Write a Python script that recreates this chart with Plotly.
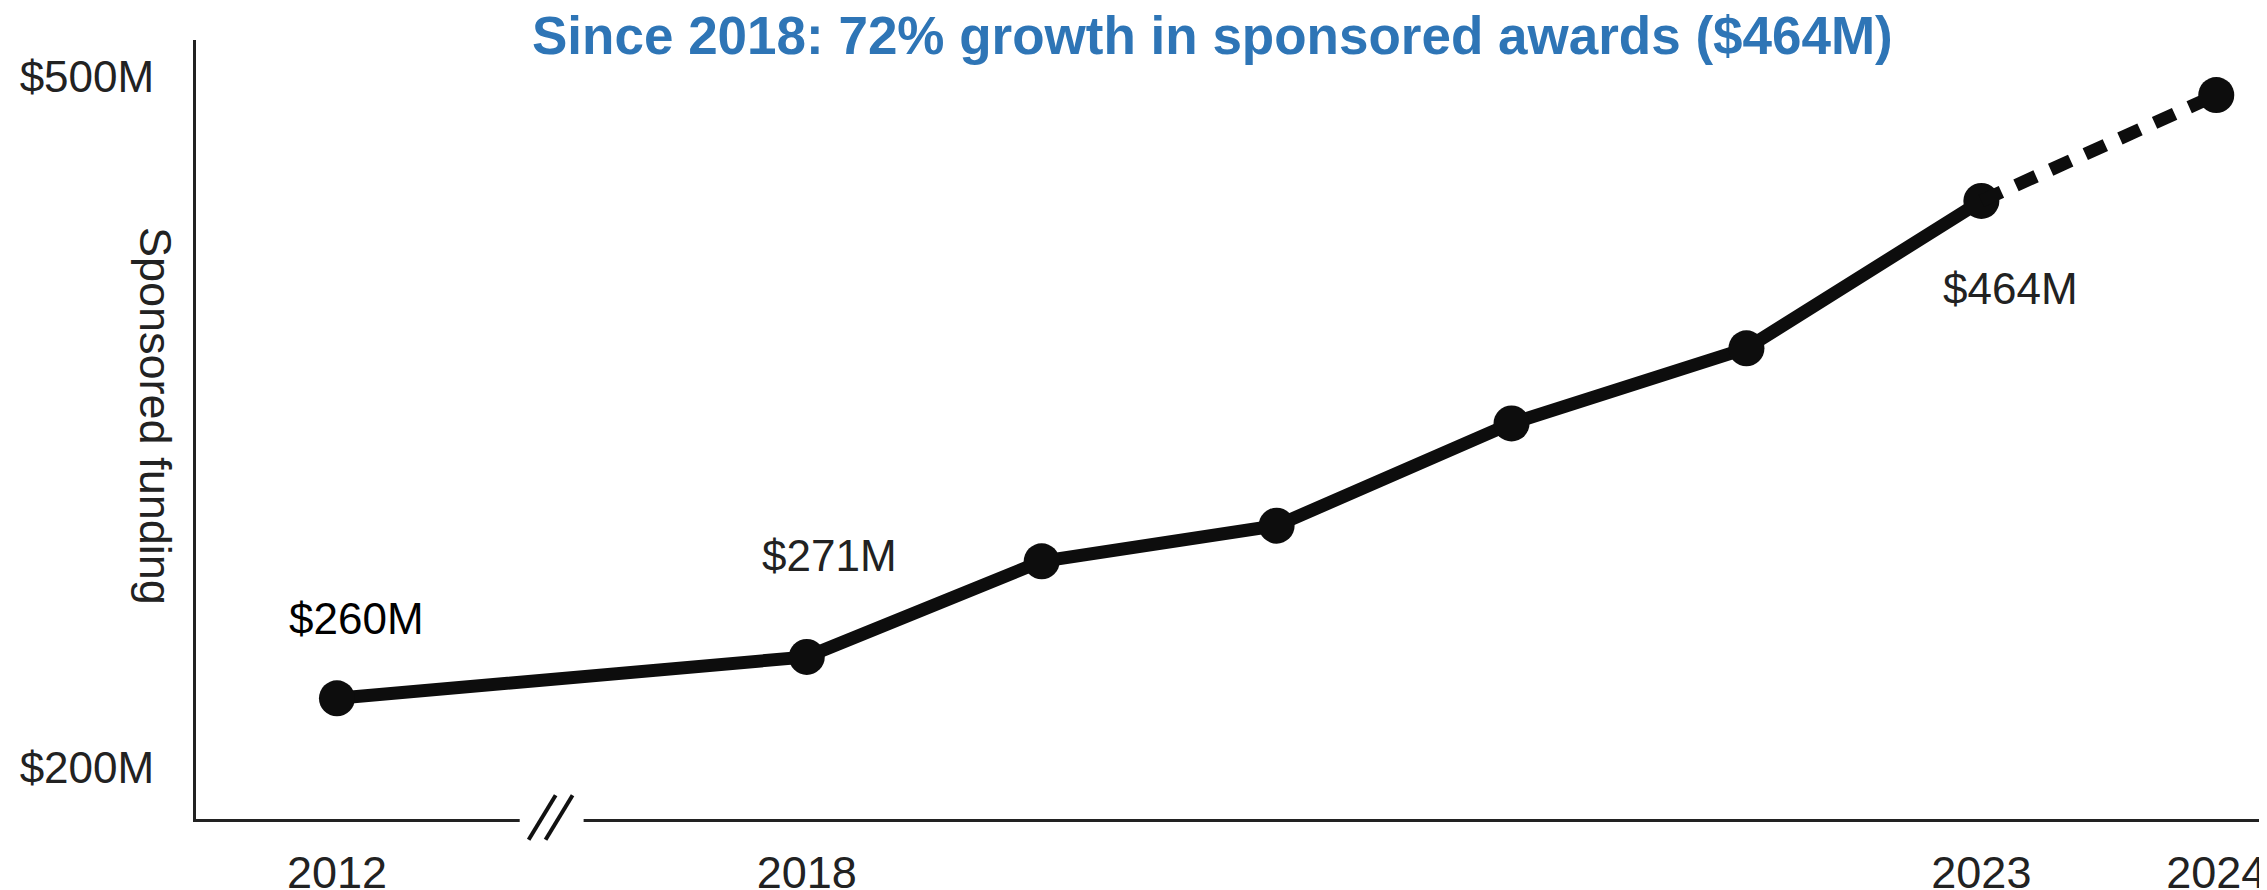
import plotly.graph_objects as go

# data (positions on the $ scale) and the printed labels
years = [2012, 2018, 2019, 2020, 2021, 2022, 2023, 2024]
funding = [230, 248, 289.5, 305, 349.4, 382, 446, 492]
tick_years = [2012, 2018, 2023, 2024]
y_ticks = [200, 500]
y_tick_text = ["$200M", "$500M"]
label_years = [2012, 2018, 2023]
label_text = ["$260M", "$271M", "$464M"]
title = "Since 2018: 72% growth in sponsored awards ($464M)"

# axis is broken between 2012 and 2018: 2012 drawn two slots before 2018
def xpos(year):
    return year if year >= 2018 else 2016

xs = [xpos(y) for y in years]
val = dict(zip(years, funding))

FONT = "Liberation Sans, Arial, sans-serif"
INK = "#0d0d0d"

fig = go.Figure()

# solid part up to 2023
fig.add_trace(go.Scatter(
    x=xs[:-1], y=funding[:-1], mode="lines+markers",
    line=dict(color=INK, width=13),
    marker=dict(color=INK, size=36),
    hoverinfo="skip",
))
# projected part 2023 -> 2024
fig.add_trace(go.Scatter(
    x=xs[-2:], y=funding[-2:], mode="lines",
    line=dict(color=INK, width=13, dash="22px,16px"),
    hoverinfo="skip",
))
fig.add_trace(go.Scatter(
    x=xs[-1:], y=funding[-1:], mode="markers",
    marker=dict(color=INK, size=36),
    hoverinfo="skip",
))

# value labels
shifts = {2012: (20, 80), 2018: (23, 101), 2023: (29, -88)}
colors = {2012: "#000000", 2018: "#222222", 2023: "#222222"}
for yr, txt in zip(label_years, label_text):
    dx, dy = shifts[yr]
    fig.add_annotation(
        x=xpos(yr), y=val[yr], text=txt, showarrow=False,
        xshift=dx, yshift=dy,
        font=dict(family=FONT, size=44, color=colors[yr]),
    )

# title
fig.add_annotation(
    x=0.489, y=1.0064, xref="paper", yref="paper", text="<b>%s</b>" % title,
    showarrow=False, yanchor="middle",
    font=dict(family=FONT, size=53, color="#2E75B6"),
)

# y axis title, reading top to bottom
fig.add_annotation(
    x=-0.0327, y=0.518, xref="paper", yref="paper", text="Sponsored funding",
    showarrow=False, textangle=90,
    font=dict(family=FONT, size=45, color="#222222"),
)

# axis break mark
fig.add_shape(type="rect", x0=2016.778, x1=2017.05, y0=-0.012, y1=0.012,
              xref="x", yref="paper", fillcolor="white", line=dict(width=0), layer="above")
for x0 in [2016.816, 2016.888]:
    fig.add_shape(type="line", x0=x0, x1=x0 + 0.115, y0=-0.0267, y1=0.0305,
                  xref="x", yref="paper", line=dict(color="#111111", width=4), layer="above")

fig.update_layout(
    width=2267, height=890,
    margin=dict(l=188, r=0, t=32, b=72),
    paper_bgcolor="white", plot_bgcolor="white",
    showlegend=False,
    xaxis=dict(
        range=[2015.4, 2024.25], showgrid=False, zeroline=False,
        showline=True, linecolor="#222222", linewidth=3,
        tickvals=[xpos(y) for y in tick_years], ticktext=[str(y) for y in tick_years],
        ticks="outside", ticklen=12, tickcolor="rgba(0,0,0,0)",
        tickfont=dict(family=FONT, size=45, color="#222222"),
    ),
    yaxis=dict(
        range=[177.6, 515.9], showgrid=False, zeroline=False,
        showline=True, linecolor="#222222", linewidth=3,
        tickvals=y_ticks, ticktext=y_tick_text,
        ticks="outside", ticklen=30, tickcolor="rgba(0,0,0,0)",
        tickfont=dict(family=FONT, size=44, color="#222222"),
    ),
)

fig.write_html("out.html")
